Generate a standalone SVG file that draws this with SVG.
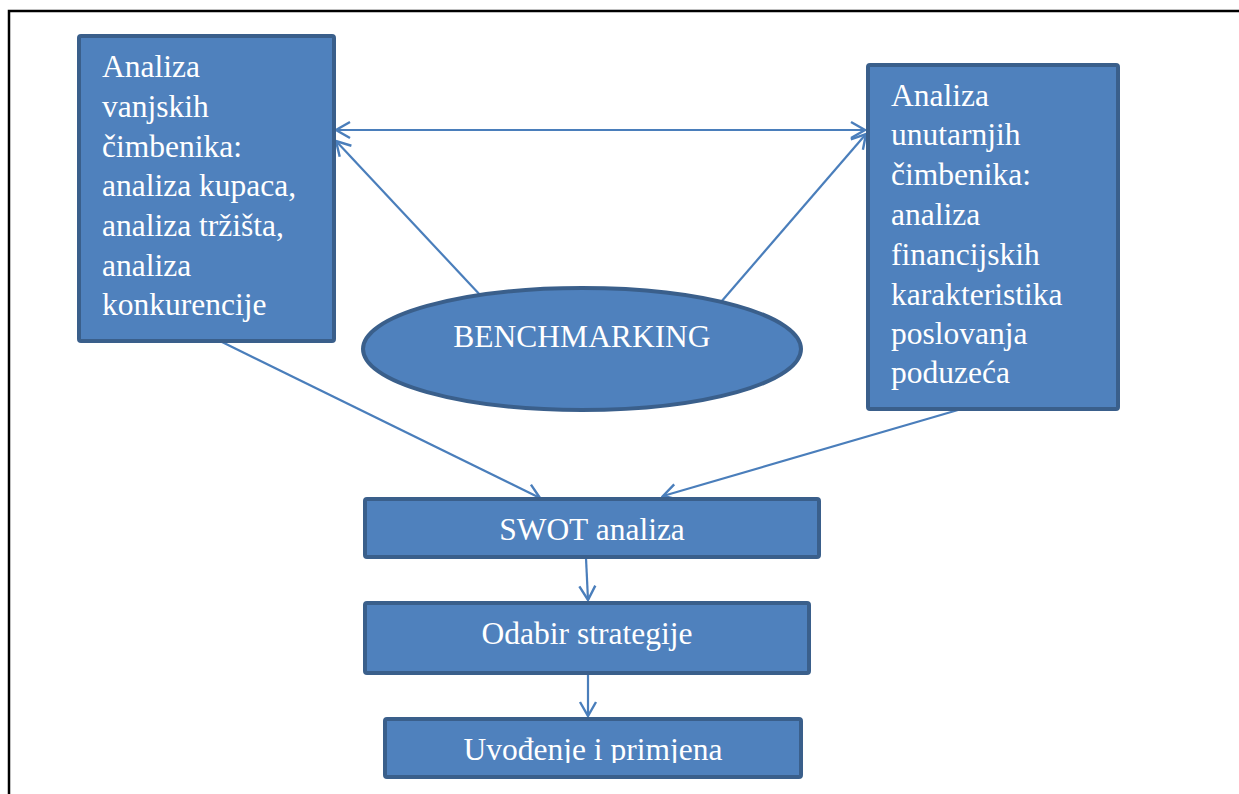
<svg xmlns="http://www.w3.org/2000/svg" width="1239" height="794" viewBox="0 0 1239 794">
<style>
.box{fill:#4F81BD;stroke:#3A5F8B;stroke-width:4}
.t{font-family:"Liberation Serif",serif;font-size:31.5px;fill:#ffffff}
.tc{font-family:"Liberation Serif",serif;font-size:31.5px;fill:#ffffff;text-anchor:middle}
.c{stroke:#4A7EBB;stroke-width:2.2;fill:none}
</style>
<defs>
<marker id="ah" viewBox="0 0 20 20" refX="18" refY="10" markerWidth="20" markerHeight="20" markerUnits="userSpaceOnUse" orient="auto-start-reverse">
<path d="M4,2 L18,10 L4,18" fill="none" stroke="#4A7EBB" stroke-width="2.4"/>
</marker>
<clipPath id="clipU"><rect x="384" y="718" width="418" height="45"/></clipPath>
</defs>
<rect x="9" y="11" width="1260" height="820" fill="none" stroke="#000" stroke-width="2.5"/>
<g id="connectors">
<line class="c" x1="336" y1="130" x2="865" y2="130" marker-start="url(#ah)" marker-end="url(#ah)"/>
<line class="c" x1="482" y1="297" x2="336" y2="141" marker-end="url(#ah)"/>
<line class="c" x1="721" y1="302" x2="866" y2="134" marker-end="url(#ah)"/>
<line class="c" x1="222" y1="342" x2="540" y2="498" marker-end="url(#ah)"/>
<line class="c" x1="958" y1="410" x2="663" y2="496" marker-end="url(#ah)"/>
<line class="c" x1="586" y1="558" x2="588" y2="600" marker-end="url(#ah)"/>
<line class="c" x1="588" y1="674" x2="588" y2="716" marker-end="url(#ah)"/>
</g>
<g id="vanjski">
<rect class="box" x="79" y="36" width="255" height="305" rx="2"/>
<text class="t" x="102" y="77">Analiza</text>
<text class="t" x="102" y="117">vanjskih</text>
<text class="t" x="102" y="157">čimbenika:</text>
<text class="t" x="102" y="196">analiza kupaca,</text>
<text class="t" x="102" y="236">analiza tržišta,</text>
<text class="t" x="102" y="276">analiza</text>
<text class="t" x="102" y="315">konkurencije</text>
</g>
<g id="unutarnji">
<rect class="box" x="868" y="65" width="250" height="344" rx="2"/>
<text class="t" x="891" y="106">Analiza</text>
<text class="t" x="891" y="145">unutarnjih</text>
<text class="t" x="891" y="185">čimbenika:</text>
<text class="t" x="891" y="225">analiza</text>
<text class="t" x="891" y="265">financijskih</text>
<text class="t" x="891" y="305">karakteristika</text>
<text class="t" x="891" y="344">poslovanja</text>
<text class="t" x="891" y="383">poduzeća</text>
</g>
<g id="benchmarking">
<ellipse class="box" cx="582" cy="349" rx="219" ry="61"/>
<text class="tc" x="582" y="347" font-size="30">BENCHMARKING</text>
</g>
<g id="swot">
<rect class="box" x="365" y="499" width="454" height="58" rx="2"/>
<text class="tc" x="592" y="540">SWOT analiza</text>
</g>
<g id="odabir">
<rect class="box" x="365" y="603" width="444" height="70" rx="2"/>
<text class="tc" x="587" y="644">Odabir strategije</text>
</g>
<g id="uvodenje">
<rect class="box" x="385" y="719" width="416" height="58" rx="2"/>
<text class="tc" x="593" y="760" clip-path="url(#clipU)">Uvođenje i primjena</text>
</g>
</svg>
